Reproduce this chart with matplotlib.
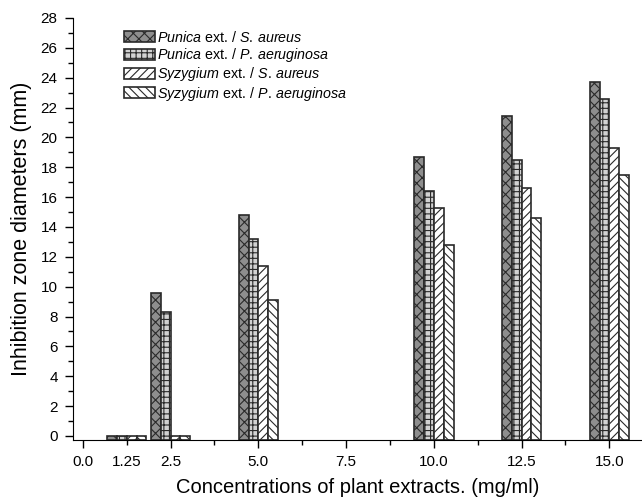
import numpy as np
import matplotlib
matplotlib.use("Agg")
import matplotlib.pyplot as plt

plt.rcParams['font.family'] = ['Liberation Sans', 'DejaVu Sans']
plt.rcParams['mathtext.fontset'] = 'custom'
plt.rcParams['mathtext.rm'] = 'Liberation Sans'
plt.rcParams['mathtext.it'] = 'Liberation Sans:italic'
plt.rcParams['hatch.linewidth'] = 0.8

# Daten
conc = [1.25, 2.5, 5.0, 10.0, 12.5, 15.0]
punica_sa = [0, 9.6, 14.8, 18.7, 21.4, 23.7]
punica_pa = [0, 8.3, 13.2, 16.4, 18.5, 22.6]
syzygium_sa = [0, 0, 11.4, 15.3, 16.6, 19.3]
syzygium_pa = [0, 0, 9.1, 12.8, 14.6, 17.5]

labels = [r'$\it{Punica}$ ext. / $\it{S.\,aureus}$',
          r'$\it{Punica}$ ext. / $\it{P.\,aeruginosa}$',
          r'$\it{Syzygium}$ ext. / $\it{S.\,aureus}$',
          r'$\it{Syzygium}$ ext. / $\it{P.\,aeruginosa}$']
faces = ['#8e8e8e', '#d2d2d2', 'white', 'white']
hatches = ['xxx', '+++', '////', '\\\\\\\\']

ymin = -0.27
w = 0.28

fig = plt.figure(figsize=(6.42, 4.98), dpi=100)
ax = fig.add_axes([0.1137, 0.1165, 0.8863, 0.8475])

x = np.array(conc)
series = [punica_sa, punica_pa, syzygium_sa, syzygium_pa]
for i, vals in enumerate(series):
    v = np.array(vals, dtype=float)
    ax.bar(x + (i - 1.5) * w, v - ymin, width=w, bottom=ymin,
           color=faces[i], edgecolor='#2a2a2a', linewidth=1.2,
           hatch=hatches[i], label=labels[i])

ax.set_xlim(-0.28, 15.93)
ax.set_ylim(ymin, 28.0)

ax.spines['top'].set_visible(False)
ax.spines['right'].set_visible(False)

ax.set_xticks([0, 2.5, 5, 7.5, 10, 12.5, 15])
ax.set_xticklabels(['0.0', '2.5', '5.0', '7.5', '10.0', '12.5', '15.0'])
ax.set_xticks([1.25, 3.75, 6.25, 8.75, 11.25, 13.75], minor=True)
ax.set_xticklabels(['1.25', '', '', '', '', ''], minor=True)
ax.set_yticks(np.arange(0, 29, 2))
ax.set_yticks(np.arange(1, 28, 2), minor=True)

ax.tick_params(which='major', direction='out', length=6, width=1, labelsize=11, pad=5)
ax.tick_params(which='minor', direction='out', length=3.5, width=1, labelsize=11)
ax.tick_params(axis='x', which='minor', pad=7.5)

ax.set_xlabel('Concentrations of plant extracts. (mg/ml)', fontsize=14.5, labelpad=6)
ax.set_ylabel('Inhibition zone diameters (mm)', fontsize=15.5, labelpad=6)

ax.legend(loc='upper left', bbox_to_anchor=(0.185, 0.952), bbox_transform=fig.transFigure,
          frameon=False, fontsize=10.3, handlelength=2.1, handleheight=0.8,
          labelspacing=0.1, handletextpad=0.2, borderaxespad=0)

fig.savefig('out.png', dpi=100)
